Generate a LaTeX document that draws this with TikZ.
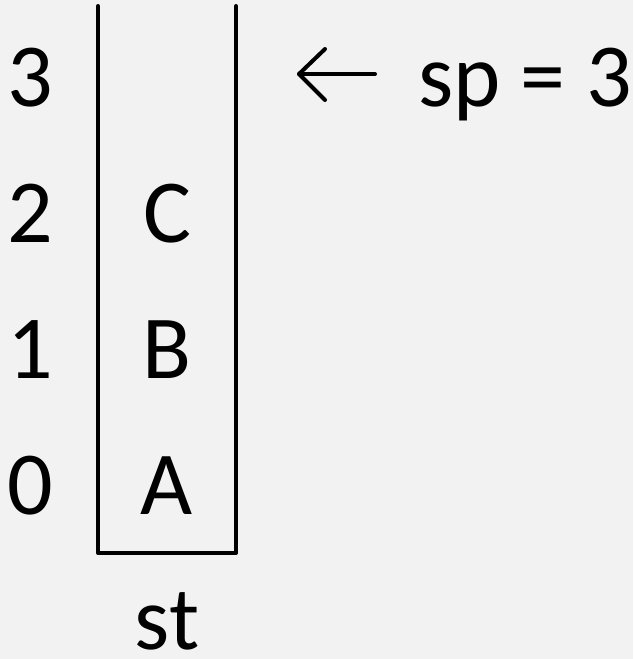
\documentclass[tikz,border=0pt]{standalone}
\usepackage{fontspec}
\setmainfont{Carlito}
\usetikzlibrary{positioning}
\definecolor{page}{HTML}{F2F2F2}
\definecolor{ink}{HTML}{000000}

\begin{document}
\begin{tikzpicture}[
  x=0.5pt, y=-0.5pt,
  idx/.style={font=\fontsize{45}{45}\selectfont, inner sep=0pt, anchor=base, color=ink},
  cell/.style={font=\fontsize{45}{45}\selectfont, inner sep=0pt, anchor=base, color=ink},
  wall/.style={line width=2pt, line cap=round, line join=round, color=ink},
]
  \useasboundingbox[fill=page] (0,0) rectangle (633,659);

  % stack body
  \coordinate (topL) at (98,6);
  \coordinate (botL) at (98,553);
  \coordinate (botR) at (236,553);
  \coordinate (topR) at (236,6);
  \draw[wall] (topL) -- (botL) -- (botR) -- (topR);

  % indices
  \node[idx] (i3) at (30,106) {3};
  \node[idx] (i2) at (30,242) {2};
  \node[idx] (i1) at (30,378) {1};
  \node[idx] (i0) at (30,514) {0};

  % contents
  \node[cell] (cC) at (167,242) {C};
  \node[cell] (cB) at (167,378) {B};
  \node[cell] (cA) at (167,514) {A};
  \node[cell] (st) at (167,649) {st};

  % stack pointer
  \node[cell] (sp) at (525,106) {sp = 3};
  \coordinate (tail) at (375,74);
  \coordinate (tip) at (299,74);
  \draw[wall] (tail) -- (tip);
  \draw[wall] ([shift={(26,-25)}]tip) -- (tip) -- ([shift={(26,26)}]tip);
\end{tikzpicture}
\end{document}
